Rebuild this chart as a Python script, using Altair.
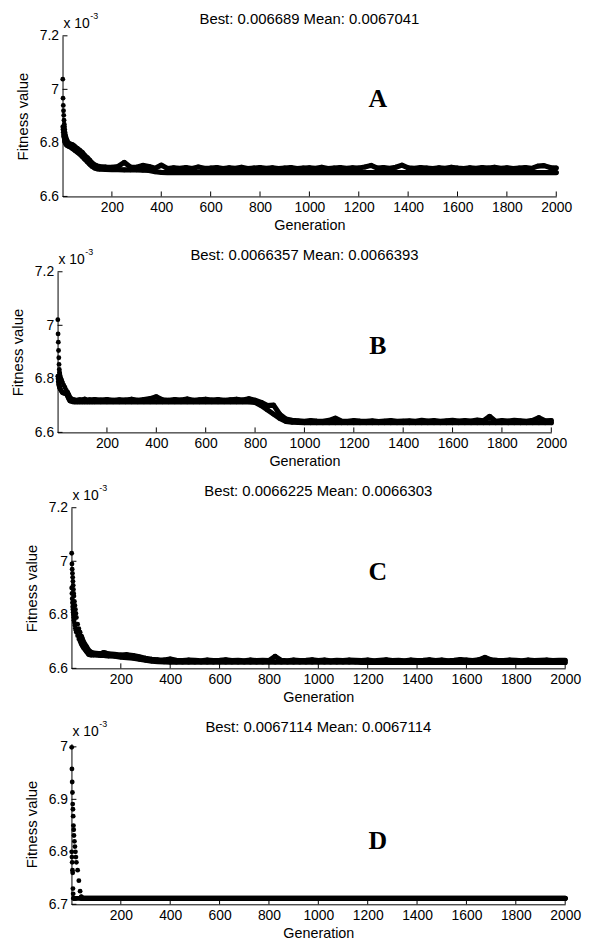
import altair as alt
import pandas as pd

# ---------------- data (fitness values in units of 1e-3) ----------------
GEN_EARLY = [1, 2, 3, 4, 5, 6, 7, 8, 9, 10, 12, 14, 16, 18, 20, 25, 30, 35, 40, 45,
             50, 60, 70, 80, 90, 100, 110, 120, 130, 140, 150]
GEN_LATE = list(range(175, 2001, 25))
GEN = GEN_EARLY + GEN_LATE

A_BEST = [6.86, 6.85, 6.84, 6.83, 6.825, 6.82, 6.815, 6.81, 6.806, 6.802,
          6.797, 6.794, 6.792, 6.790, 6.789, 6.786, 6.784, 6.782, 6.779, 6.776,
          6.772, 6.765, 6.758, 6.749, 6.739, 6.730, 6.720, 6.712, 6.706, 6.703, 6.702,
          6.701, 6.700, 6.700, 6.699, 6.699, 6.699, 6.698, 6.697, 6.692, 6.690,
          6.689, 6.689, 6.689, 6.689, 6.689, 6.689, 6.689, 6.689, 6.689, 6.689,
          6.689, 6.689, 6.689, 6.689, 6.689, 6.689, 6.689, 6.689, 6.689, 6.689,
          6.689, 6.689, 6.689, 6.689, 6.689, 6.689, 6.689, 6.689, 6.689, 6.689,
          6.689, 6.689, 6.689, 6.689, 6.689, 6.689, 6.689, 6.689, 6.689, 6.689,
          6.689, 6.689, 6.689, 6.689, 6.689, 6.689, 6.689, 6.689, 6.689, 6.689,
          6.689, 6.689, 6.689, 6.689, 6.689, 6.689, 6.689, 6.689, 6.689, 6.689,
          6.689, 6.689, 6.689, 6.689]
A_MEAN = [7.038, 6.967, 6.940, 6.920, 6.903, 6.885, 6.870, 6.860, 6.850, 6.840,
          6.830, 6.822, 6.815, 6.810, 6.806, 6.800, 6.797, 6.795, 6.793, 6.790,
          6.786, 6.779, 6.772, 6.764, 6.753, 6.745, 6.735, 6.725, 6.718, 6.714, 6.712,
          6.710, 6.709, 6.712, 6.727, 6.710, 6.709, 6.716, 6.712, 6.705, 6.717,
          6.704, 6.707, 6.705, 6.708, 6.704, 6.710, 6.705, 6.706, 6.708, 6.704,
          6.707, 6.705, 6.709, 6.704, 6.706, 6.708, 6.705, 6.707, 6.704, 6.706,
          6.708, 6.704, 6.706, 6.707, 6.705, 6.709, 6.704, 6.706, 6.708, 6.705,
          6.707, 6.706, 6.710, 6.716, 6.706, 6.708, 6.705, 6.709, 6.717, 6.707,
          6.705, 6.708, 6.706, 6.704, 6.707, 6.705, 6.709, 6.706, 6.704, 6.707,
          6.705, 6.708, 6.706, 6.709, 6.705, 6.707, 6.704, 6.706, 6.708, 6.705,
          6.713, 6.715, 6.708, 6.706]

B_BEST = [6.810, 6.800, 6.790, 6.785, 6.780, 6.776, 6.772, 6.769, 6.766, 6.764,
          6.760, 6.757, 6.754, 6.751, 6.748, 6.746, 6.745, 6.743, 6.737, 6.727,
          6.718, 6.715, 6.714, 6.714, 6.714, 6.714, 6.714, 6.714, 6.714, 6.714, 6.714,
          6.714, 6.714, 6.714, 6.714, 6.714, 6.714, 6.714, 6.714, 6.714, 6.714,
          6.714, 6.714, 6.714, 6.714, 6.714, 6.714, 6.714, 6.714, 6.714, 6.714,
          6.714, 6.714, 6.714, 6.714, 6.714, 6.712, 6.700, 6.684, 6.668, 6.652,
          6.641, 6.638, 6.637, 6.636, 6.636, 6.636, 6.636, 6.636, 6.636, 6.636,
          6.636, 6.636, 6.636, 6.636, 6.636, 6.636, 6.636, 6.636, 6.636, 6.636,
          6.636, 6.636, 6.636, 6.636, 6.636, 6.636, 6.636, 6.636, 6.636, 6.636,
          6.636, 6.636, 6.636, 6.636, 6.636, 6.636, 6.636, 6.636, 6.636, 6.636,
          6.636, 6.636, 6.636, 6.636]
B_MEAN = [7.021, 6.968, 6.937, 6.906, 6.879, 6.854, 6.835, 6.825, 6.818, 6.812,
          6.805, 6.800, 6.795, 6.790, 6.785, 6.776, 6.768, 6.758, 6.750, 6.740,
          6.730, 6.723, 6.721, 6.720, 6.722, 6.721, 6.724, 6.720, 6.722, 6.721, 6.723,
          6.721, 6.723, 6.720, 6.722, 6.721, 6.724, 6.720, 6.723, 6.726, 6.733,
          6.722, 6.720, 6.723, 6.721, 6.725, 6.720, 6.722, 6.724, 6.721, 6.723,
          6.720, 6.722, 6.724, 6.721, 6.726, 6.720, 6.712, 6.700, 6.702, 6.668,
          6.650, 6.645, 6.643, 6.641, 6.644, 6.642, 6.641, 6.645, 6.653, 6.642,
          6.641, 6.644, 6.642, 6.641, 6.643, 6.640, 6.642, 6.644, 6.641, 6.642,
          6.643, 6.641, 6.645, 6.642, 6.644, 6.641, 6.643, 6.645, 6.642, 6.644,
          6.642, 6.646, 6.643, 6.660, 6.641, 6.644, 6.642, 6.645, 6.643, 6.641,
          6.645, 6.655, 6.643, 6.644]

C_BEST = [6.900, 6.880, 6.860, 6.845, 6.830, 6.820, 6.810, 6.800, 6.790, 6.780,
          6.770, 6.760, 6.750, 6.742, 6.735, 6.722, 6.710, 6.700, 6.692, 6.684,
          6.676, 6.664, 6.652, 6.650, 6.650, 6.650, 6.649, 6.648, 6.648, 6.647, 6.646,
          6.645, 6.642, 6.640, 6.638, 6.634, 6.630, 6.627, 6.625, 6.624, 6.623,
          6.623, 6.623, 6.623, 6.623, 6.623, 6.623, 6.623, 6.623, 6.623, 6.623,
          6.623, 6.623, 6.623, 6.623, 6.623, 6.623, 6.623, 6.623, 6.623, 6.623,
          6.623, 6.623, 6.623, 6.623, 6.623, 6.623, 6.623, 6.623, 6.623, 6.623,
          6.622, 6.622, 6.622, 6.622, 6.622, 6.622, 6.622, 6.622, 6.622, 6.622,
          6.622, 6.622, 6.622, 6.622, 6.622, 6.622, 6.622, 6.622, 6.622, 6.622,
          6.622, 6.622, 6.622, 6.622, 6.622, 6.622, 6.622, 6.622, 6.622, 6.622,
          6.622, 6.622, 6.622, 6.622]
C_MEAN = [7.030, 6.990, 6.970, 6.955, 6.940, 6.925, 6.910, 6.895, 6.880, 6.870,
          6.850, 6.835, 6.820, 6.805, 6.790, 6.765, 6.748, 6.735, 6.720, 6.708,
          6.697, 6.682, 6.667, 6.660, 6.657, 6.656, 6.655, 6.655, 6.659, 6.657, 6.654,
          6.652, 6.650, 6.651, 6.648, 6.643, 6.638, 6.634, 6.632, 6.631, 6.635,
          6.630, 6.629, 6.631, 6.630, 6.628, 6.631, 6.629, 6.630, 6.632, 6.629,
          6.630, 6.628, 6.631, 6.629, 6.630, 6.629, 6.645, 6.630, 6.628, 6.631,
          6.629, 6.630, 6.632, 6.629, 6.631, 6.628, 6.630, 6.629, 6.631, 6.630,
          6.629, 6.631, 6.628, 6.630, 6.632, 6.629, 6.630, 6.628, 6.631, 6.629,
          6.630, 6.632, 6.629, 6.631, 6.628, 6.630, 6.633, 6.631, 6.629, 6.632,
          6.641, 6.632, 6.630, 6.629, 6.631, 6.630, 6.628, 6.631, 6.629, 6.630,
          6.631, 6.629, 6.630, 6.630]

D_BEST = [6.800, 6.790, 6.780, 6.765, 6.760, 6.730, 6.720] + [6.7114] * 98
D_MEAN = [6.999, 6.958, 6.933, 6.913, 6.891, 6.881, 6.868, 6.850, 6.842, 6.831,
          6.820, 6.810, 6.800, 6.790, 6.780, 6.765, 6.745, 6.725, 6.714] + [6.7114] * 86

BEST = [A_BEST, B_BEST, C_BEST, D_BEST]
MEAN = [A_MEAN, B_MEAN, C_MEAN, D_MEAN]

TITLES = ["Best: 0.006689 Mean: 0.0067041",
          "Best: 0.0066357 Mean: 0.0066393",
          "Best: 0.0066225 Mean: 0.0066303",
          "Best: 0.0067114 Mean: 0.0067114"]
LETTERS = ["A", "B", "C", "D"]
LETTER_GEN = [1277, 1297, 1241, 1241]
LETTER_VAL = [6.963, 6.922, 6.959, 6.821]
Y_DOMAINS = [[6.6, 7.2], [6.6, 7.2], [6.6, 7.2], [6.7, 7.006]]
Y_TICKS = [[6.6, 6.8, 7.0, 7.2], [6.6, 6.8, 7.0, 7.2], [6.6, 6.8, 7.0, 7.2],
           [6.7, 6.8, 6.9, 7.0]]
X_TICKS = [200, 400, 600, 800, 1000, 1200, 1400, 1600, 1800, 2000]
SHIFT = [6, 1, 15, 15]

W, H = 498, 162
FONT = "Liberation Sans"


def panel(i):
    rows = []
    for g, b, m in zip(GEN, BEST[i], MEAN[i]):
        rows.append({"gen": g, "series": "best", "val": b})
        rows.append({"gen": g, "series": "mean", "val": m})
    df = pd.DataFrame(rows)

    x = alt.X("gen:Q",
              scale=alt.Scale(domain=[0, 2000], nice=False, zero=False),
              axis=alt.Axis(values=X_TICKS, title="Generation", format="d",
                            labelPadding=4, titlePadding=4, labelFlush=False,
                            titleFontSize=14.5))
    y = alt.Y("val:Q",
              scale=alt.Scale(domain=Y_DOMAINS[i], nice=False, zero=False),
              axis=alt.Axis(values=Y_TICKS[i], title="Fitness value", format="~g",
                            labelPadding=4, titlePadding=9, titleFontSize=15))

    base = alt.Chart(df)
    lines = base.transform_filter("datum.gen >= 40").mark_line(
        color="#000", strokeWidth=5.2, strokeCap="round", strokeJoin="round"
    ).encode(x=x, y=y, detail="series:N")
    pts = base.mark_circle(color="#000", size=24, opacity=1).encode(
        x="gen:Q", y="val:Q")

    xt = alt.Chart(pd.DataFrame({"gen": X_TICKS})).mark_rule(
        color="#000", strokeWidth=1).encode(
        x="gen:Q", y=alt.value(H), y2=alt.value(H - 5))
    yt = alt.Chart(pd.DataFrame({"val": Y_TICKS[i]})).mark_rule(
        color="#000", strokeWidth=1).encode(
        y="val:Q", x=alt.value(0), x2=alt.value(5))

    letter = alt.Chart(pd.DataFrame({"gen": [LETTER_GEN[i]], "val": [LETTER_VAL[i]],
                                     "t": [LETTERS[i]]})).mark_text(
        font="Liberation Serif", fontWeight="bold", fontSize=26, color="#000",
        baseline="middle", align="center").encode(x="gen:Q", y="val:Q", text="t:N")

    one = pd.DataFrame({"k": [0]})
    title = alt.Chart(one).mark_text(text=TITLES[i], font=FONT, fontSize=15,
                                     color="#000", align="center",
                                     baseline="alphabetic").encode(
        x=alt.value(W / 2), y=alt.value(-12))
    mult = alt.Chart(one).mark_text(text="x 10", font=FONT, fontSize=14, color="#000",
                                    align="left", baseline="alphabetic").encode(
        x=alt.value(1), y=alt.value(-8))
    expo = alt.Chart(one).mark_text(text="-3", font=FONT, fontSize=9, color="#000",
                                    align="left", baseline="alphabetic").encode(
        x=alt.value(28), y=alt.value(-17))

    return alt.layer(lines, pts, xt, yt, letter, title, mult, expo).properties(
        width=W, height=H)


def spacer(w):
    return alt.Chart(pd.DataFrame({"k": [0]})).mark_rule(strokeWidth=0).encode(
        x=alt.value(0), x2=alt.value(0), y=alt.value(0), y2=alt.value(0)
    ).properties(width=w, height=10)


rows = [alt.hconcat(spacer(SHIFT[i]), panel(i), spacing=0) for i in range(4)]

chart = alt.vconcat(*rows, spacing=16).properties(
    padding={"left": 1, "top": 0, "right": 5, "bottom": 2}
).configure_view(stroke=None).configure_axis(
    grid=False, ticks=False, tickSize=0, domainColor="#000", domainWidth=1,
    labelFont=FONT, labelFontSize=14, labelColor="#000",
    titleFont=FONT, titleFontSize=14, titleFontWeight="normal", titleColor="#000",
)

chart.save("out.html", embed_options={"renderer": "svg", "actions": False})
